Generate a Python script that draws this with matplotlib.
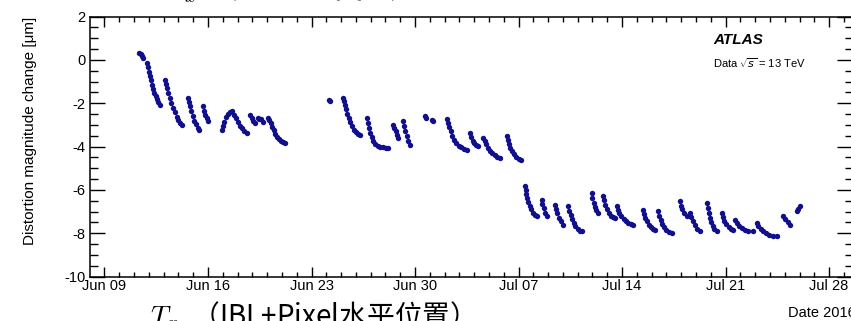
import datetime
import matplotlib
matplotlib.use("Agg")
import matplotlib.pyplot as plt
import matplotlib.dates as mdates

plt.rcParams['font.family'] = ['Liberation Sans', 'DejaVu Sans']
plt.rcParams['mathtext.fontset'] = 'custom'
plt.rcParams['mathtext.rm'] = 'Liberation Sans'

# time of each measurement, in days counted from May 31 2016 (Jun 09 -> 9, Jul 07 -> 37)
day = [
    # Jun 11 - Jun 21
    11.35, 11.45, 11.55, 11.62,
    11.85, 11.92, 11.98, 12.05, 12.12, 12.20, 12.28, 12.37, 12.46, 12.55, 12.65, 12.75,
    13.09, 13.15, 13.22, 13.30, 13.40, 13.50, 13.62, 13.75, 13.88, 14.00, 14.12, 14.22,
    14.67, 14.73, 14.80, 14.88, 14.97, 15.07, 15.18, 15.30, 15.41,
    15.68, 15.75, 15.82, 15.92, 16.02,
    16.92, 17.00, 17.10, 17.22, 17.35, 17.48, 17.62,
    17.75, 17.88, 18.02, 18.15, 18.30, 18.45, 18.61,
    18.84, 18.95, 19.07, 19.18,
    19.36, 19.48, 19.60, 19.75,
    20.07, 20.15, 20.25, 20.35, 20.45, 20.55, 20.65, 20.78, 20.92, 21.05, 21.20,
    # Jun 24 - Jul 07
    24.15, 24.22,
    25.15, 25.20, 25.27, 25.35, 25.43, 25.52, 25.62, 25.73, 25.85, 25.98, 26.12, 26.27,
    26.73, 26.80, 26.88, 26.97, 27.07, 27.18, 27.32, 27.48, 27.65, 27.85, 28.02, 28.19,
    28.53, 28.60, 28.68, 28.77, 28.86,
    29.20, 29.27, 29.35, 29.45, 29.55, 29.66,
    30.67, 30.75, 31.15, 31.23,
    32.14, 32.22, 32.30, 32.40, 32.52, 32.65, 32.80, 32.95, 33.12, 33.30, 33.49,
    33.71, 33.80, 33.90, 34.02, 34.15, 34.27,
    34.61, 34.70, 34.80, 34.92, 35.05, 35.20, 35.38, 35.55, 35.74,
    36.20, 36.27, 36.35, 36.45, 36.57, 36.70, 36.85, 37.02, 37.20,
    # Jul 07 - Jul 26
    37.43, 37.48, 37.53, 37.60, 37.67, 37.75, 37.85, 37.96, 38.08, 38.22,
    38.56, 38.62, 38.70, 38.80, 38.90,
    39.46, 39.53, 39.62, 39.72, 39.85, 40.02,
    40.36, 40.43, 40.52, 40.62, 40.73, 40.85, 41.00, 41.13, 41.26,
    41.94, 42.00, 42.08, 42.17, 42.27, 42.39,
    42.73, 42.80, 42.88, 42.98, 43.10, 43.25, 43.38, 43.52,
    43.63, 43.72, 43.82, 43.95, 44.10, 44.25, 44.42, 44.58, 44.75,
    45.43, 45.50, 45.58, 45.68, 45.80, 45.93, 46.08, 46.22,
    46.44, 46.52, 46.62, 46.73, 46.85, 46.98, 47.15, 47.35,
    47.91, 47.98, 48.07, 48.20, 48.36,
    48.59, 48.68, 48.78, 48.90, 49.05, 49.26,
    49.72, 49.78, 49.85, 49.93, 50.02, 50.12, 50.25, 50.39,
    50.73, 50.82, 50.92, 51.05, 51.20, 51.35, 51.51,
    51.62, 51.75, 51.90, 52.10, 52.30, 52.55, 52.87,
    53.10, 53.22, 53.38, 53.55, 53.75, 53.95, 54.20, 54.45,
    54.90, 55.05, 55.20, 55.35,
    55.80, 55.90, 56.00,
]

# distortion magnitude change [um]
distortion = [
    0.32, 0.27, 0.18, 0.09,
    -0.14, -0.35, -0.55, -0.75, -0.95, -1.15, -1.35, -1.52, -1.68, -1.82, -1.95, -2.06,
    -0.91, -1.10, -1.30, -1.52, -1.75, -1.98, -2.20, -2.42, -2.62, -2.78, -2.90, -2.99,
    -1.75, -1.95, -2.15, -2.38, -2.60, -2.80, -2.98, -3.12, -3.22,
    -2.14, -2.35, -2.55, -2.70, -2.83,
    -3.25, -3.05, -2.85, -2.65, -2.50, -2.40, -2.38,
    -2.52, -2.70, -2.88, -3.03, -3.16, -3.28, -3.37,
    -2.53, -2.68, -2.80, -2.90,
    -2.70, -2.72, -2.75, -2.85,
    -2.68, -2.78, -2.92, -3.08, -3.25, -3.42, -3.55, -3.65, -3.72, -3.78, -3.83,
    -1.84, -1.88,
    -1.75, -1.90, -2.08, -2.28, -2.48, -2.68, -2.88, -3.06, -3.22, -3.33, -3.40, -3.45,
    -2.68, -2.90, -3.12, -3.35, -3.55, -3.72, -3.86, -3.95, -4.00, -4.03, -4.05, -4.06,
    -2.99, -3.15, -3.30, -3.45, -3.60,
    -2.83, -3.05, -3.28, -3.50, -3.72, -3.91,
    -2.60, -2.66, -2.78, -2.83,
    -2.75, -2.92, -3.10, -3.30, -3.50, -3.68, -3.84, -3.96, -4.04, -4.10, -4.14,
    -3.37, -3.55, -3.72, -3.85, -3.93, -3.99,
    -3.60, -3.75, -3.90, -4.05, -4.18, -4.30, -4.40, -4.47, -4.52,
    -3.53, -3.70, -3.88, -4.05, -4.22, -4.36, -4.47, -4.55, -4.60,
    -5.83, -6.00, -6.18, -6.36, -6.54, -6.72, -6.90, -7.05, -7.15, -7.22,
    -6.45, -6.65, -6.85, -7.05, -7.22,
    -6.68, -6.88, -7.08, -7.28, -7.45, -7.60,
    -6.76, -6.95, -7.15, -7.35, -7.52, -7.68, -7.80, -7.87, -7.91,
    -6.14, -6.35, -6.58, -6.78, -6.94, -7.06,
    -6.29, -6.48, -6.68, -6.88, -7.05, -7.18, -7.25, -7.29,
    -6.76, -6.92, -7.08, -7.22, -7.35, -7.45, -7.53, -7.57, -7.60,
    -6.91, -7.10, -7.28, -7.45, -7.60, -7.71, -7.78, -7.83,
    -6.99, -7.18, -7.38, -7.56, -7.72, -7.84, -7.93, -7.98,
    -6.53, -6.72, -6.90, -7.08, -7.22,
    -7.06, -7.25, -7.45, -7.63, -7.78, -7.91,
    -6.60, -6.82, -7.05, -7.28, -7.50, -7.68, -7.82, -7.91,
    -7.06, -7.25, -7.42, -7.58, -7.70, -7.78, -7.83,
    -7.37, -7.52, -7.65, -7.76, -7.84, -7.89, -7.91,
    -7.52, -7.65, -7.78, -7.90, -8.00, -8.07, -8.11, -8.14,
    -7.22, -7.35, -7.48, -7.60,
    -6.99, -6.88, -6.76,
]

t0 = mdates.date2num(datetime.datetime(2016, 5, 31))
x = [t0 + d for d in day]

fig = plt.figure(figsize=(8.51, 3.21), dpi=100)
ax = fig.add_axes([90 / 851, 1 - 276.7 / 321, 762 / 851, 260.2 / 321])

ax.plot(x, distortion, 'o', color='#10108c', markersize=3.9, markeredgewidth=0)

ax.set_xlim(t0 + 8.02, t0 + 59.55)
ax.set_ylim(-10, 2)

ax.xaxis.set_major_locator(mdates.WeekdayLocator(byweekday=mdates.TH))
ax.xaxis.set_minor_locator(mdates.DayLocator())
ax.xaxis.set_major_formatter(mdates.DateFormatter('%b %d'))
ax.set_yticks([-10, -8, -6, -4, -2, 0, 2])
ax.set_yticklabels(['-10', '-8', '-6', '-4', '-2', '0', '2'])
ax.yaxis.set_minor_locator(matplotlib.ticker.MultipleLocator(0.5))

ax.tick_params(axis='both', which='both', direction='in', top=True, right=True,
               width=1, labelsize=10.5)
ax.tick_params(axis='x', which='major', length=7.2, pad=2)
ax.tick_params(axis='x', which='minor', length=3.6)
ax.tick_params(axis='y', which='major', length=10.8, pad=3.5)
ax.tick_params(axis='y', which='minor', length=5.4)
for s in ax.spines.values():
    s.set_linewidth(1.1)

fig.text(30 / 851, 1 - 17 / 321, 'Distortion magnitude change [\u03bcm]',
         rotation=90, ha='center', va='top', fontsize=11)
fig.text(856 / 851, 1 - 313 / 321, 'Date 2016', ha='right', va='center', fontsize=10.5)

fig.text(713 / 851, 1 - 40 / 321, 'ATLAS', fontsize=11, fontweight='bold',
         fontstyle='italic', ha='left', va='center')
fig.text(713 / 851, 1 - 63 / 321, r'Data $\sqrt{s}$ = 13 TeV', fontsize=8,
         ha='left', va='center')

# captions above and below the plot
fig.text(150 / 851, 1 - 316 / 321, '$T_x$  （IBL+Pixel水平位置）', fontsize=20,
         family=['Noto Sans CJK SC', 'DejaVu Sans'], math_fontfamily='cm',
         ha='left', va='center')
fig.text(168 / 851, 1 - 5 / 321, '$T_x$  （IBL扭曲变化）', fontsize=20,
         family=['Noto Sans CJK SC', 'DejaVu Sans'], math_fontfamily='cm',
         ha='left', va='bottom')

fig.savefig('out.png', dpi=100)
